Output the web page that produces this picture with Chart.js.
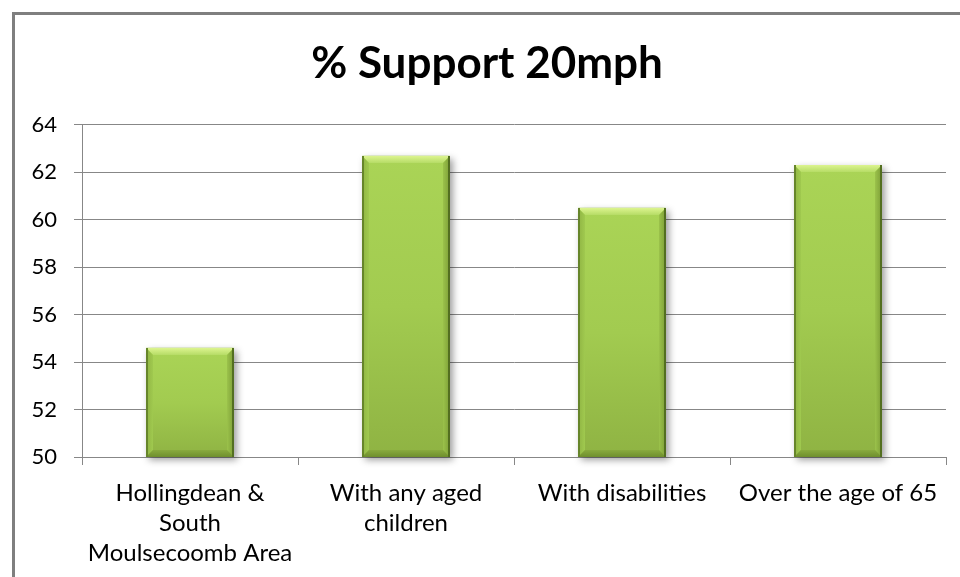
<!DOCTYPE html>
<html>
<head>
<meta charset="utf-8">
<title>% Support 20mph</title>
<script src="https://cdn.jsdelivr.net/npm/chart.js@4/dist/chart.umd.min.js"></script>
<style>
  html, body { margin: 0; padding: 0; background: #fff; }
  #wrap { position: relative; width: 960px; height: 577px; overflow: hidden; }
  #frame {
    position: absolute; left: 12px; top: 12px; width: 1000px; height: 600px;
    border-left: 3px solid #7f7f7f; border-top: 3px solid #7f7f7f;
  }
  #c { position: absolute; left: 0; top: 0; }
</style>
</head>
<body>
<div id="wrap">
  <div id="frame"></div>
  <canvas id="c" width="960" height="577"></canvas>
</div>
<script>
// Survey groups and the share (%) of each that supports a 20mph limit
const categories = [
  ['Hollingdean &', 'South', 'Moulsecoomb Area'],
  ['With any aged', 'children'],
  'With disabilities',
  'Over the age of 65'
];
const supportPct = [54.6, 62.7, 60.5, 62.3];
const chartTitle = '% Support 20mph';
const yMin = 50, yMax = 64, yStep = 2;

const FONT = 'Lato, "Open Sans", "DejaVu Sans", sans-serif';
const GRID = '#878787';

// Column geometry from the bar elements, kept inside the plot area
function barBox(chart, bar) {
  const { x, y, base, width } = bar.getProps(['x', 'y', 'base', 'width'], true);
  const area = chart.chartArea;
  return {
    l: Math.round(x - width / 2),
    r: Math.round(x + width / 2),
    t: Math.round(Math.max(y, area.top)),
    b: Math.round(Math.min(base, area.bottom))
  };
}

// Shadow under each column and a bevelled, gradient face on top of it
const bevelBars = {
  id: 'bevelBars',
  beforeDatasetsDraw(chart) {
    const ctx = chart.ctx;
    chart.getDatasetMeta(0).data.forEach(bar => {
      const { l, r, t, b } = barBox(chart, bar);
      ctx.save();
      ctx.shadowColor = 'rgba(0,0,0,0.38)';
      ctx.shadowBlur = 7;
      ctx.shadowOffsetX = 3;
      ctx.shadowOffsetY = 3;
      ctx.fillStyle = '#8fb044';
      ctx.fillRect(l, t, r - l, b - t);
      ctx.restore();
    });
  },
  afterDatasetsDraw(chart) {
    const ctx = chart.ctx;
    chart.getDatasetMeta(0).data.forEach(bar => {
      const { l, r, t, b } = barBox(chart, bar);
      const bv = 7;
      ctx.save();
      // face
      const g = ctx.createLinearGradient(0, t, 0, b);
      g.addColorStop(0, '#aad456');
      g.addColorStop(0.5, '#a2cb50');
      g.addColorStop(1, '#8fb343');
      ctx.fillStyle = g;
      ctx.fillRect(l, t, r - l, b - t);
      const poly = (pts, fill) => {
        ctx.beginPath();
        ctx.moveTo(pts[0][0], pts[0][1]);
        for (let i = 1; i < pts.length; i++) ctx.lineTo(pts[i][0], pts[i][1]);
        ctx.closePath();
        ctx.fillStyle = fill;
        ctx.fill();
      };
      // top bevel
      const gt = ctx.createLinearGradient(0, t, 0, t + bv);
      gt.addColorStop(0, '#dcf48f');
      gt.addColorStop(1, '#b6dc66');
      poly([[l, t], [r, t], [r - bv, t + bv], [l + bv, t + bv]], gt);
      // left bevel
      const gl = ctx.createLinearGradient(l, 0, l + bv, 0);
      gl.addColorStop(0, '#8fb443');
      gl.addColorStop(1, '#a0c94f');
      poly([[l, t], [l + bv, t + bv], [l + bv, b - bv], [l, b]], gl);
      // right bevel
      const gr = ctx.createLinearGradient(r - bv, 0, r, 0);
      gr.addColorStop(0, '#9bc24b');
      gr.addColorStop(1, '#7c9d36');
      poly([[r, t], [r - bv, t + bv], [r - bv, b - bv], [r, b]], gr);
      // bottom bevel
      const gb = ctx.createLinearGradient(0, b - bv, 0, b);
      gb.addColorStop(0, '#88aa3e');
      gb.addColorStop(1, '#6f8f2d');
      poly([[l, b], [r, b], [r - bv, b - bv], [l + bv, b - bv]], gb);
      // dark side edges
      ctx.fillStyle = '#66852a';
      ctx.fillRect(l, t, 2, b - t);
      ctx.fillStyle = '#536f20';
      ctx.fillRect(r - 2, t, 2, b - t);
      ctx.restore();
    });
  }
};

new Chart(document.getElementById('c'), {
  type: 'bar',
  data: {
    labels: categories,
    datasets: [{
      data: supportPct,
      backgroundColor: '#a2cb50',
      borderWidth: 0,
      categoryPercentage: 1.0,
      barPercentage: 0.405
    }]
  },
  options: {
    responsive: false,
    devicePixelRatio: 1,
    animation: false,
    layout: { padding: { left: 28, right: 14, top: 0, bottom: 0 } },
    plugins: {
      legend: { display: false },
      tooltip: { enabled: false },
      title: {
        display: true,
        text: chartTitle,
        color: '#000',
        font: { family: FONT, size: 44, weight: 'bold', lineHeight: 1.2 },
        padding: { top: 37, bottom: 35 }
      }
    },
    scales: {
      x: {
        grid: { display: true, drawOnChartArea: false, drawTicks: true, tickLength: 8, color: GRID, lineWidth: 1 },
        border: { display: true, color: GRID, width: 1 },
        ticks: {
          color: '#000',
          padding: 14,
          maxRotation: 0,
          autoSkip: false,
          font: { family: FONT, size: 24, lineHeight: 1.23 }
        },
        afterFit(scale) { scale.height = 120; }
      },
      y: {
        min: yMin,
        max: yMax,
        grid: { color: GRID, lineWidth: 1, drawTicks: true, tickLength: 8 },
        border: { display: true, color: GRID, width: 1 },
        ticks: {
          stepSize: yStep,
          color: '#000',
          padding: 17,
          font: { family: FONT, size: 22 }
        },
        afterFit(scale) { scale.width = 54; }
      }
    }
  },
  plugins: [bevelBars]
});
</script>
</body>
</html>
